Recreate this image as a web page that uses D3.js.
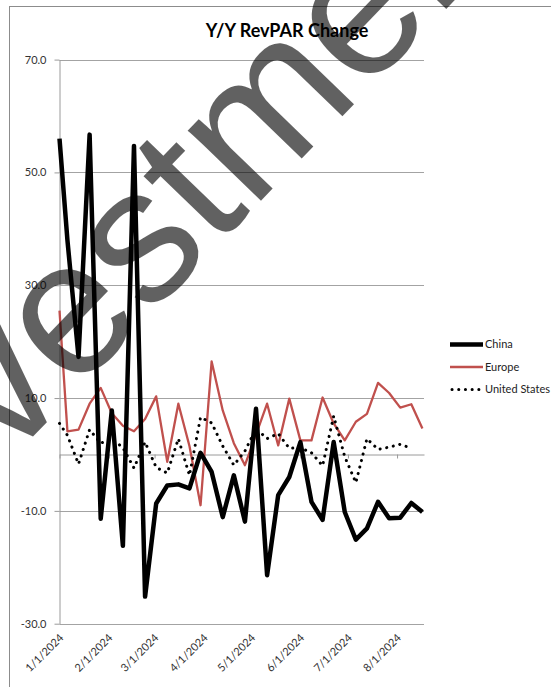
<!DOCTYPE html>
<html>
<head>
<meta charset="utf-8">
<script src="https://cdn.jsdelivr.net/npm/d3@7"></script>
<style>
html,body{margin:0;padding:0;background:#fff;}
svg{display:block;}
</style>
</head>
<body>
<svg id="chart" width="551" height="687"></svg>
<script>
// ---- data ----
const dates = ["2024-01-01","2024-01-06","2024-01-13","2024-01-20","2024-01-27","2024-02-03","2024-02-10","2024-02-17","2024-02-24","2024-03-02","2024-03-09","2024-03-16","2024-03-23","2024-03-30","2024-04-06","2024-04-13","2024-04-20","2024-04-27","2024-05-04","2024-05-11","2024-05-18","2024-05-25","2024-06-01","2024-06-08","2024-06-15","2024-06-22","2024-06-29","2024-07-06","2024-07-13","2024-07-20","2024-07-27","2024-08-03","2024-08-10","2024-08-17"];
const china = [56.0,38.0,17.3,56.7,-11.4,7.8,-16.2,54.7,-25.2,-8.7,-5.5,-5.3,-6.0,0.3,-3.1,-11.1,-3.7,-11.9,8.1,-21.4,-7.2,-4.0,2.2,-8.4,-11.6,2.2,-10.2,-15.1,-13.1,-8.4,-11.3,-11.2,-8.6,-10.2];
const europe = [25.5,4.1,4.4,9.0,11.8,7.3,5.1,4.1,6.3,10.3,-1.3,9.0,1.5,-9.0,16.5,7.8,2.0,-1.9,3.5,9.0,1.6,9.9,2.5,2.5,10.1,5.5,2.5,5.8,7.2,12.7,10.9,8.3,8.9,4.6];
const unitedStates = [5.5,3.4,-1.7,4.4,2.0,2.8,1.2,-2.4,2.2,-2.3,-3.3,2.8,-3.7,6.6,5.6,1.5,-1.9,0.6,4.6,2.8,3.7,1.1,1.2,0.3,-2.0,6.8,-0.4,-5.0,2.8,0.9,1.3,1.8,1.1,null];
const seriesNames = ["China","Europe","United States"];
const yTickValues = [-30,-10,10,30,50,70];
const monthTicks = ["2024-01-01","2024-02-01","2024-03-01","2024-04-01","2024-05-01","2024-06-01","2024-07-01","2024-08-01"];
const axisStart = "2024-01-01";
const axisEnd = "2024-08-18";
const chartTitle = "Y/Y RevPAR Change";
const watermarkText = "Investment";

// ---- drawing ----
const parse = d3.timeParse("%Y-%m-%d");
const svg = d3.select("#chart");
const FONT = "Lato, 'Open Sans', sans-serif";

svg.append("rect").attr("width",551).attr("height",687).attr("fill","#fff");
// chart frame
svg.append("rect").attr("x",9.5).attr("y",6.5).attr("width",600).attr("height",700)
  .attr("fill","none").attr("stroke","#8c8c8c").attr("stroke-width",1);

const x = d3.scaleTime().domain([parse(axisStart), parse(axisEnd)]).range([59.5, 424]);
const y = d3.scaleLinear().domain([-30,70]).range([623.7, 59.6]);

// gridlines
svg.append("g").selectAll("line").data(yTickValues).join("line")
  .attr("x1",59.5).attr("x2",424)
  .attr("y1",d=>Math.round(y(d))+0.5).attr("y2",d=>Math.round(y(d))+0.5)
  .attr("stroke","#a3a3a3").attr("stroke-width",1);

// y axis
const yAxis = svg.append("g").attr("transform","translate(59.5,0)")
  .call(d3.axisLeft(y).tickValues(yTickValues).tickSize(5).tickSizeOuter(0).tickPadding(8)
    .tickFormat(d=>d.toFixed(1)));
yAxis.select(".domain").attr("stroke","#9a9a9a");
yAxis.selectAll(".tick line").attr("stroke","#9a9a9a");
yAxis.selectAll("text").attr("font-family",FONT).attr("font-size",11).attr("fill","#333");

// horizontal axis at zero with month ticks
const xAxis0 = svg.append("g").attr("transform",`translate(0,${Math.round(y(0))+0.5})`)
  .call(d3.axisBottom(x).tickValues(monthTicks.map(parse)).tickSize(4).tickSizeOuter(0).tickFormat(""));
xAxis0.select(".domain").attr("stroke","#9a9a9a");
xAxis0.selectAll(".tick line").attr("stroke","#9a9a9a");

// month labels at the bottom
const xAxisLab = svg.append("g").attr("transform","translate(0,623.7)")
  .call(d3.axisBottom(x).tickValues(monthTicks.map(parse)).tickSize(0).tickFormat(d3.timeFormat("%-m/%-d/%Y")));
xAxisLab.select(".domain").remove();
xAxisLab.selectAll("text")
  .attr("font-family",FONT).attr("font-size",11).attr("fill","#333")
  .attr("text-anchor","end").attr("x",0).attr("y",0).attr("dy","0.35em")
  .attr("transform","translate(1.5,12) rotate(-45)");

// series
const pts = dates.map(parse);
function series(vals){ return vals.map((v,i)=>({d:pts[i], v:v})); }
const line = d3.line().defined(p=>p.v!==null).x(p=>x(p.d)).y(p=>y(p.v));

svg.append("path").datum(series(europe)).attr("d",line)
  .attr("fill","none").attr("stroke","#c0504d").attr("stroke-width",2.3)
  .attr("stroke-linejoin","round");
svg.append("path").datum(series(unitedStates)).attr("d",line)
  .attr("fill","none").attr("stroke","#000").attr("stroke-width",3)
  .attr("stroke-dasharray","0.1 6.6").attr("stroke-linecap","round").attr("stroke-linejoin","round");
svg.append("path").datum(series(china)).attr("d",line)
  .attr("fill","none").attr("stroke","#000").attr("stroke-width",4.5)
  .attr("stroke-linejoin","round");

// legend
const legendStyles = [
  {stroke:"#000", w:4.5, dash:null, cap:"butt"},
  {stroke:"#c0504d", w:2.3, dash:null, cap:"butt"},
  {stroke:"#000", w:3, dash:"0.1 6.6", cap:"round"}
];
const legY = d3.scalePoint().domain(seriesNames).range([344.5, 389.5]);
const leg = svg.append("g").selectAll("g").data(seriesNames).join("g")
  .attr("transform",d=>`translate(0,${legY(d)})`);
leg.append("line").attr("x1",(d,i)=>i===2?452:450).attr("x2",483).attr("y1",0).attr("y2",0)
  .attr("stroke",(d,i)=>legendStyles[i].stroke).attr("stroke-width",(d,i)=>legendStyles[i].w)
  .attr("stroke-dasharray",(d,i)=>legendStyles[i].dash).attr("stroke-linecap",(d,i)=>legendStyles[i].cap);
leg.append("text").attr("x",485).attr("y",0).attr("dy","0.35em")
  .attr("font-family",FONT).attr("font-size",11).attr("fill","#222").text(d=>d);

// title
svg.append("text").attr("x",287).attr("y",37).attr("text-anchor","middle")
  .attr("font-family",FONT).attr("font-weight","bold").attr("font-size",18).attr("fill","#000")
  .text(chartTitle);

// watermark
svg.append("text").attr("transform","translate(222,241) rotate(-46)")
  .attr("text-anchor","middle")
  .attr("font-family","'Liberation Sans', Arial, sans-serif").attr("font-size",192)
  .attr("fill","#000").attr("fill-opacity",0.62)
  .text(watermarkText);
</script>
</body>
</html>
